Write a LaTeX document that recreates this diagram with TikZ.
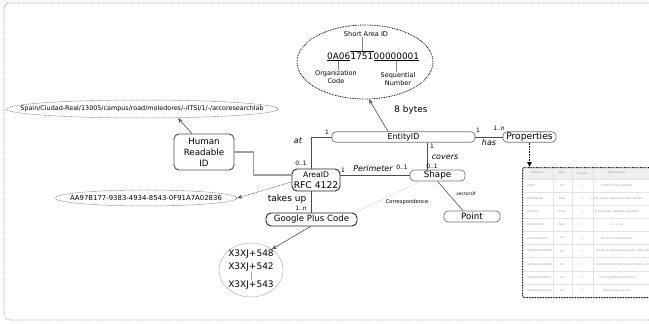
\documentclass[tikz,border=0pt]{standalone}
\usepackage{fontspec}
\setmainfont{DejaVu Sans}
\usetikzlibrary{shapes.geometric,arrows.meta,calc}
\begin{document}
\begin{tikzpicture}[x=1pt,y=-1pt,
  lbl/.style={inner sep=0pt, font=\fontsize{6}{7}\selectfont},
  rel/.style={inner sep=0pt, font=\fontsize{8}{9}\selectfont\itshape},
  gbox/.style={draw=gray!90!black, line width=0.7pt, rounded corners=4pt, inner sep=0pt, align=center, font=\fontsize{8.7}{10}\selectfont},
  dbox/.style={gbox, draw=black!85, line width=0.9pt},
  conn/.style={draw=black!70, line width=0.6pt},
  arr/.style={conn, -{Stealth[length=5pt,width=4pt]}},
  ell/.style={ellipse, inner sep=0pt},
  cell/.style={inner sep=0pt, text=gray!75, font=\fontsize{3}{3.5}\selectfont},
  lcell/.style={cell, anchor=west}
]
\clip (0,0) rectangle (649,324);
% outer frame
\draw[gray!70, dash pattern=on 1.5pt off 1pt, rounded corners=6pt, line width=0.6pt] (4,3) rectangle (700,320);

% ---- top ellipse with short area ID
\node[ell, draw=black, line width=0.8pt, dash pattern=on 0.8pt off 0.9pt, minimum width=136pt, minimum height=74pt] (topell) at (365,62) {};
\node[inner sep=0.5pt, font=\fontsize{6.6}{7}\selectfont] (sa) at (366,34) {Short Area ID};
\node[inner sep=0pt, font=\fontsize{8.9}{10}\selectfont] (codeB) at (362,56) {1751};
\node[inner sep=0pt, font=\fontsize{8.9}{10}\selectfont, anchor=east] (codeA) at (codeB.west) {0A06};
\node[inner sep=0pt, font=\fontsize{8.9}{10}\selectfont, anchor=west] (codeC) at (codeB.east) {00000001};
\node[inner sep=0.5pt, align=center, font=\fontsize{6.5}{8}\selectfont] (org) at (336,77) {Organization\\Code};
\node[inner sep=0.5pt, align=center, font=\fontsize{6.5}{8}\selectfont] (seq) at (398,79) {Sequential\\Number};
\draw[line width=1pt] ([yshift=-1.2pt]codeA.south west) -- ([yshift=-1.2pt]codeA.south east);
\draw[line width=1pt] ([yshift=-1.2pt]codeC.south west) -- ([yshift=-1.2pt]codeC.south east);
\draw[line width=1pt] ([yshift=1.2pt]codeB.north west) -- ([yshift=1.2pt]codeB.north east);
\draw[conn, gray] ([yshift=1.2pt]codeB.north) -- (codeB.north |- sa.south);
\draw[conn, gray] ([yshift=-1.2pt]codeA.south) -- (codeA.south |- org.north);
\draw[conn, gray] ([yshift=-1.2pt]codeC.south) -- (codeC.south |- seq.north);
\node[inner sep=0pt, font=\fontsize{8.9}{10}\selectfont] (bytes) at (411,110) {8 bytes};

% ---- main boxes
\node[gbox, minimum width=143pt, minimum height=10.5pt, font=\fontsize{8}{9}\selectfont] (entity) at (403.5,137) {EntityID};
\node[gbox, minimum width=53pt, minimum height=10.5pt, font=\fontsize{9.2}{10}\selectfont] (props) at (529.5,137) {Properties};
\node[gbox, minimum width=55pt, minimum height=11pt, font=\fontsize{8.7}{10}\selectfont] (shape) at (437.5,175.5) {Shape};
\node[gbox, minimum width=56pt, minimum height=11pt, font=\fontsize{8.7}{10}\selectfont] (point) at (472,216.5) {Point};
\node[dbox, minimum width=48pt, minimum height=22pt, rounded corners=5pt, font=\fontsize{9.2}{11}\selectfont] (area) at (316,180) {{\fontsize{7.7}{9}\selectfont AreaID}\\RFC 4122};
\node[dbox, draw=black!70, minimum width=60pt, minimum height=36pt, rounded corners=5pt, font=\fontsize{8.7}{11}\selectfont] (human) at (204,152) {Human\\Readable\\ID};
\node[dbox, minimum width=91pt, minimum height=13pt, rounded corners=5pt, font=\fontsize{8.6}{10}\selectfont] (gpc) at (311.5,219.5) {Google Plus Code};

% ---- value ellipses
\node[ell, draw=gray!80!black, line width=0.5pt, dash pattern=on 1pt off 0.8pt, minimum width=272pt, minimum height=18pt] (spain) at (142,109) {};
\node[inner sep=0pt, font=\fontsize{6.4}{7}\selectfont] (spaint) at (spain.center) {Spain/Ciudad-Real/13005/campus/road/moledores/-/ITSI/1/-/arcoresearchlab};
\node[ell, draw=gray!80!black, line width=0.5pt, dash pattern=on 1pt off 0.8pt, minimum width=182pt, minimum height=16pt] (uuid) at (146,198) {};
\node[inner sep=0pt, font=\fontsize{6.9}{7}\selectfont] (uuidt) at (uuid.center) {AA97B177-9383-4934-8543-0F91A7A02836};
\node[ell, draw=gray!60, line width=0.5pt, minimum width=64pt, minimum height=54pt] (plus) at (251,270) {};
\node[inner sep=0pt, font=\fontsize{9}{10}\selectfont] (p1) at (251,254) {X3XJ+548};
\node[inner sep=0pt, font=\fontsize{9}{10}\selectfont] (p2) at (251,267) {X3XJ+542};
\node[inner sep=0pt, font=\fontsize{9}{10}\selectfont] (p3) at (251,285) {X3XJ+543};
\draw[gray!70, line width=0.5pt] ([yshift=-1pt]p2.south) -- ([yshift=1pt]p3.north);

% ---- properties table
\fill[gray!12] (522,167) rectangle (700,179);
\foreach \k in {1,...,9} {
  \draw[gray!22, line width=0.4pt] (522,{179+13.1*\k}) -- (700,{179+13.1*\k});
}
\draw[gray!22, line width=0.4pt] (522,179) -- (700,179);
\foreach \xx in {553,572,593} {
  \draw[gray!22, line width=0.4pt] (\xx,167) -- (\xx,297);
}
\node[cell] (h1) at (537,173) {Property};
\node[cell] (h2) at (562,173) {Type};
\node[cell] (h3) at (582,173) {Values};
\node[cell] (h4) at (617,173) {Description};
\foreach [count=\i] \pa/\pb/\pc/\pd in {
  units/str/1/units of the readings,
  fieldRange/float/2/{[min, max] allowed sensor values},
  position/float/3/{[longitude, latitude, altitude]},
  orientation/float/3/{[x, y, z]},
  manufacturer/str/1/device manufacturer,
  {}/str/1/{},
  {}/str/1/{},
  softwareVersion/str/1/running software version,
  hardwareVersion/str/1/device hw version} {
  \node[lcell] (ra\i) at (527,{179+13.1*(\i-0.5)}) {\pa};
  \node[cell] (rb\i) at (562,{179+13.1*(\i-0.5)}) {\pb};
  \node[cell] (rc\i) at (582,{179+13.1*(\i-0.5)}) {\pc};
  \node[cell] (rd\i) at (617,{179+13.1*(\i-0.5)}) {\pd};
}
\node[lcell] (ra6x) at (527,{179+13.1*5.5}) {deploymentDate};
\node[lcell] (ra7x) at (527,{179+13.1*6.5}) {lastRevisionDate};
\node[lcell] (rd6x) at (596,{179+13.1*5.5}) {physical deployment date: 2021-02-01};
\node[lcell] (rd7x) at (596,{179+13.1*6.5}) {maintenance last revision date: 2021-02-01};
\node[draw=black, line width=1pt, dash pattern=on 0.8pt off 0.8pt, rounded corners=2pt, anchor=north west, minimum width=178pt, minimum height=130pt, inner sep=0pt] (tbl) at (522,167) {};

% ---- connectors
\draw[arr] ([xshift=-15.5pt]entity.north) -- (topell.-84);
\draw[conn] (entity.east) -- (props.west);
\draw[black, line width=1.2pt, dash pattern=on 0.8pt off 0.8pt, -{Triangle[length=5pt,width=4.5pt]}] (props.south) -- (props.south |- tbl.north);
\draw[conn] ([xshift=-10.5pt]shape.north) -- ([xshift=-10.5pt]shape.north |- entity.south);
\draw[conn] ([xshift=-5pt]area.north) |- (entity.west);
\draw[conn] (shape.west -| area.east) -- (shape.west);
\draw[gray!75, line width=1.2pt] (human.east) -- ++(19,0) |- ([yshift=5pt]area.west);
\draw[arr] ([xshift=-12pt]human.north) -- ([xshift=36pt]spain.south);
\draw[conn, line width=0.5pt, dash pattern=on 1.2pt off 0.8pt, -{Stealth[length=5pt,width=4pt]}] ([yshift=-2pt]area.west) -- (uuid.east);
\draw[conn] ([xshift=-5pt]area.south) -- ([xshift=-5pt]area.south |- gpc.north);
\draw[arr] ([xshift=-1pt]gpc.south) -- (plus.45);
\draw[gray!55, line width=0.5pt, dash pattern=on 0.8pt off 0.8pt] ([xshift=10pt]shape.south west) -- ([xshift=-2pt]gpc.north east);
\draw[conn] (shape.south) -- ([xshift=-9pt]point.north);

% ---- connector labels
\node[lbl] (e1) at (478,130) {1};
\node[lbl] (en) at (499,128) {1..n};
\node[rel] (has) at (489,143) {has};
\node[lbl] (s1) at (432,146) {1};
\node[rel] (covers) at (445,157) {covers};
\node[lbl] (s01) at (432,166) {0..1};
\node[lbl] (a1) at (327,132) {1};
\node[rel] (at) at (298,141) {at};
\node[lbl] (a01) at (301,163) {0..1};
\node[lbl] (p1l) at (343,170) {1};
\node[rel] (perim) at (373,169) {Perimeter};
\node[lbl] (p01) at (402,167) {0..1};
\node[inner sep=0pt, font=\fontsize{9}{10}\selectfont] (takes) at (287,199) {takes up};
\node[lbl] (g1n) at (301,208) {1..n};
\node[inner sep=0pt, font=\fontsize{5.2}{6}\selectfont] (corr) at (407,202) {Correspondence};
\node[inner sep=0pt, font=\fontsize{4.5}{5}\selectfont] (vec) at (466,194) {vectorOf};
\end{tikzpicture}
\end{document}
